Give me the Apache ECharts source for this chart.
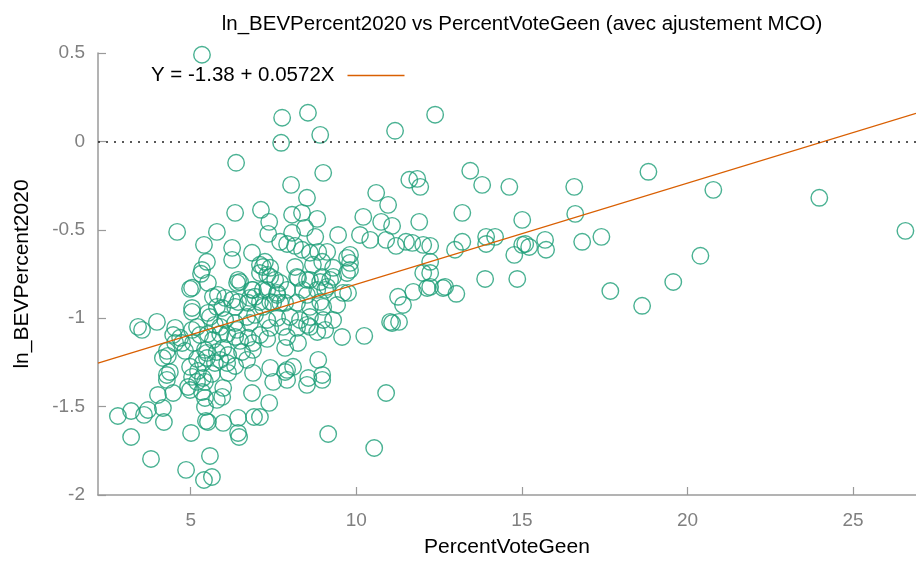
<!DOCTYPE html>
<html>
<head>
<meta charset="utf-8">
<script src="https://cdn.jsdelivr.net/npm/echarts@6/dist/echarts.min.js"></script>
<style>
  html, body { margin: 0; padding: 0; background: #fff; }
  #chart { width: 916px; height: 563px; }
</style>
</head>
<body>
<div id="chart"></div>
<script>
// x: PercentVoteGeen, y: ln_BEVPercent2020
const voteGeen = [
  5.34, 7.76, 8.54, 8.91, 7.73, 11.17, 12.38, 9.00, 8.03, 8.51, 10.60, 10.96, 11.60, 11.84, 11.93, 6.37, 6.34, 7.12,
  8.06, 8.36, 8.82, 7.37, 10.21, 10.75, 11.08, 11.90, 7.34, 8.06, 8.45, 8.76, 9.45, 10.11, 10.42, 10.90, 11.20, 11.50,
  11.69, 12.02, 7.70, 7.91, 8.15, 8.36, 8.60, 8.85, 9.12, 9.81, 9.81, 7.24, 8.15, 8.69, 8.97, 9.30, 9.72, 4.59, 5.79,
  5.40, 6.25, 6.85, 5.49, 6.25, 5.34, 7.09, 7.18, 7.40, 7.31, 7.09, 7.40, 6.43, 6.49, 7.55, 8.24, 8.60, 8.97, 9.30,
  9.72, 9.81, 12.02, 5.52, 4.98, 6.88, 7.18, 7.61, 7.91, 8.39, 8.82, 9.12, 9.60, 5.67, 6.04, 6.43, 6.79, 7.09, 7.70,
  5.04, 11.26, 11.41, 11.72, 12.14,
  13.44, 13.80, 14.62, 16.58, 18.82, 20.78, 23.98, 13.20, 15.01, 16.61, 26.58, 12.23, 13.20, 12.98, 13.92, 14.19,
  13.92, 14.77, 15.01, 15.10, 15.22, 15.70, 15.73, 16.82, 17.40, 20.39, 12.23, 12.23, 12.23, 12.68, 12.62, 13.02,
  13.89, 14.86, 17.67, 18.63, 19.57,
  7.70, 8.21, 8.51, 8.91, 9.21, 7.31, 7.61, 8.51, 9.06, 9.75, 7.18, 7.49, 7.85, 8.21, 8.60, 8.91, 9.42, 7.31, 7.61,
  8.00, 8.30, 8.60, 9.00, 9.30, 7.40, 7.79, 8.21, 8.51, 8.82, 9.06, 11.02, 11.08, 11.29, 7.09, 7.91, 8.24, 9.57,
  10.24, 7.85, 8.85, 7.40, 7.91, 8.09, 8.97, 8.55, 10.90, 9.15, 10.54, 7.37, 7.09, 7.49, 8.51, 8.97, 7.91,
  5.31, 5.04, 6.40, 6.85, 6.94, 5.82, 6.25, 5.04, 5.52, 5.95, 6.34, 6.73, 3.41, 3.53, 3.98, 4.47, 4.53, 4.28, 4.16,
  4.31, 4.74, 5.04, 5.28, 5.07, 4.83, 5.58, 5.73, 6.04, 6.34, 6.70, 6.94, 5.52, 5.89, 6.34, 6.73, 5.43, 5.79, 6.13,
  6.55, 6.88, 5.19, 5.49, 5.73, 6.10, 6.34, 6.70, 5.22, 5.64, 6.13, 4.28, 6.88, 4.28, 4.92, 5.19, 5.43, 5.98, 4.01,
  4.47, 4.98, 5.43, 5.95, 6.85, 3.71, 4.16, 5.43, 2.80, 3.20, 3.59, 4.19, 5.46, 5.52, 5.98, 6.43, 6.43, 6.46, 6.91,
  3.20, 5.01, 3.80, 5.58, 4.86, 5.64, 5.40,
  5.79, 7.40, 9.00, 4.53, 4.68, 5.19, 5.89, 6.10, 6.40, 6.79, 8.60, 5.67, 5.98, 6.49, 6.88, 7.31, 5.49, 5.89, 5.37,
  4.98, 7.85, 5.04, 5.37, 5.34, 5.79, 4.37
];
const lnBev = [
  0.49, 0.134, 0.162, 0.037, -0.008, 0.06, 0.151, -0.178, -0.246, -0.319, -0.291, -0.359, -0.217, -0.212, -0.257, -0.121, -0.404, -0.387,
  -0.415, -0.404, -0.438, -0.455, -0.427, -0.455, -0.478, -0.455, -0.523, -0.517, -0.489, -0.540, -0.529, -0.529, -0.557, -0.557, -0.591, -0.568,
  -0.574, -0.585, -0.568, -0.580, -0.591, -0.613, -0.630, -0.625, -0.625, -0.642, -0.687, -0.681, -0.710, -0.698, -0.681, -0.715, -0.659, -0.512, -0.512,
  -0.585, -0.602, -0.630, -0.681, -0.670, -0.727, -0.698, -0.710, -0.715, -0.755, -0.744, -0.766, -0.783, -0.795, -0.783, -0.772, -0.783, -0.766, -0.766,
  -0.744, -0.727, -0.744, -0.800, -0.834, -0.840, -0.840, -0.868, -0.840, -0.840, -0.840, -0.823, -0.857, -0.879, -0.885, -0.908, -0.885, -0.908, -0.913,
  -0.942, -0.879, -0.925, -0.851, -0.829,
  -0.166, -0.246, -0.257, -0.257, -0.172, -0.274, -0.319, -0.404, -0.444, -0.410, -0.506, -0.591, -0.568, -0.613, -0.540, -0.540,
  -0.580, -0.642, -0.585, -0.580, -0.597, -0.557, -0.613, -0.568, -0.540, -0.647, -0.681, -0.744, -0.823, -0.823, -0.829, -0.862,
  -0.778, -0.778, -0.846, -0.930, -0.795,
  -0.800, -0.766, -0.783, -0.795, -0.783, -0.840, -0.857, -0.868, -0.840, -0.857, -0.936, -0.913, -0.913, -0.913, -0.936, -0.908, -0.925, -1.010, -0.998,
  -0.993, -1.010, -0.993, -1.010, -1.010, -1.055, -1.049, -1.055, -1.038, -1.078, -1.066, -1.021, -1.027, -1.021, -1.095, -1.106, -1.140, -1.106,
  -1.100, -1.168, -1.236, -1.281, -1.292, -1.275, -1.321, -1.338, -1.423, -1.655, -1.734, -1.479, -1.559, -1.360, -1.377, -1.349, -1.349,
  -0.749, -0.828, -0.800, -0.840, -0.879, -0.868, -0.896, -0.964, -0.970, -0.942, -0.936, -0.913, -1.049, -1.066, -1.021, -1.095, -1.140, -1.185, -1.225,
  -1.213, -1.140, -1.066, -1.095, -1.140, -1.185, -0.993, -1.038, -1.010, -1.027, -0.993, -0.981, -1.089, -1.089, -1.106, -1.111, -1.179, -1.191, -1.208,
  -1.191, -1.179, -1.230, -1.225, -1.253, -1.253, -1.270, -1.236, -1.298, -1.315, -1.309, -1.321, -1.309, -1.349, -1.389, -1.360, -1.360, -1.394, -1.434,
  -1.423, -1.406, -1.451, -1.445, -1.423, -1.519, -1.508, -1.502, -1.553, -1.525, -1.547, -1.587, -1.581, -1.587, -1.592, -1.564, -1.649, -1.672, -1.559,
  -1.672, -1.649, -1.796, -1.779, -1.858, -1.898, -1.915,
  -0.936, -0.908, -0.936, -1.055, -1.111, -1.049, -1.049, -1.089, -1.066, -1.027, -1.049, -1.123, -1.168, -1.128, -1.140, -1.117, -1.196, -1.236, -1.253,
  -1.275, -1.304, -1.332, -1.338, -1.417, -1.462, -1.304
];

const xTicks = [5, 10, 15, 20, 25];
const yTicks = [-2, -1.5, -1, -0.5, 0, 0.5];

// OLS fit shown in the legend
const intercept = -1.38;
const slope = 0.0572;
const xMin = 2.2;
const xMax = 26.9;

let points = [];
for (let i = 0; i < voteGeen.length; i++) {
  points.push([voteGeen[i], lnBev[i]]);
}
let fitLine = [[xMin, intercept + slope * xMin], [xMax, intercept + slope * xMax]];

const chart = echarts.init(document.getElementById('chart'));
const font = 'Liberation Sans, Arial, sans-serif';
const axisGray = '#9a9a9a';

let option = {
  backgroundColor: '#fff',
  animation: false,
  title: {
    text: 'ln_BEVPercent2020 vs PercentVoteGeen (avec ajustement MCO)',
    left: 517,
    top: 9,
    textAlign: 'center',
    textStyle: { fontFamily: font, fontSize: 20.5, fontWeight: 'normal', color: '#000' }
  },
  legend: {
    data: [{ name: 'Y = -1.38 + 0.0572X', icon: 'rect' }],
    left: 146,
    top: 60,
    align: 'right',
    itemWidth: 57,
    itemHeight: 1.4,
    itemGap: 0,
    textStyle: { fontFamily: font, fontSize: 20.5, color: '#000', padding: [0, 8, 0, 0] }
  },
  grid: { left: 98, right: 0, top: 53, bottom: 68 },
  xAxis: {
    type: 'value',
    min: xMin,
    max: xMax,
    name: 'PercentVoteGeen',
    nameLocation: 'middle',
    nameGap: 42,
    nameTextStyle: { fontFamily: font, fontSize: 21, color: '#000' },
    splitLine: { show: false },
    axisLine: { onZero: false, lineStyle: { color: axisGray, width: 1.5 } },
    axisTick: { inside: true, length: 8, customValues: xTicks, lineStyle: { color: axisGray, width: 1.2 } },
    axisLabel: { customValues: xTicks, margin: 16, fontFamily: font, fontSize: 19, color: '#808080' }
  },
  yAxis: {
    type: 'value',
    min: -2,
    max: 0.5,
    name: 'ln_BEVPercent2020',
    nameLocation: 'middle',
    nameGap: 65,
    nameRotate: 90,
    nameTextStyle: { fontFamily: font, fontSize: 21, color: '#000' },
    splitLine: { show: false },
    axisLine: { show: true, onZero: false, lineStyle: { color: axisGray, width: 1.5 } },
    axisTick: { show: true, inside: true, length: 8, customValues: yTicks, lineStyle: { color: axisGray, width: 1.2 } },
    axisLabel: { customValues: yTicks, margin: 13, fontFamily: font, fontSize: 19, color: '#808080' }
  },
  series: [
    {
      name: 'ln_BEVPercent2020',
      type: 'scatter',
      data: points,
      symbol: 'circle',
      symbolSize: 16.5,
      itemStyle: { color: 'rgba(0,0,0,0)', borderColor: '#1b9e77', borderWidth: 1.4 },
      markLine: {
        silent: true,
        symbol: 'none',
        label: { show: false },
        lineStyle: { color: '#222', type: [2, 6], width: 1.5 },
        data: [{ yAxis: 0 }]
      },
      z: 3
    },
    {
      name: 'Y = -1.38 + 0.0572X',
      type: 'line',
      data: fitLine,
      symbol: 'none',
      lineStyle: { color: '#d95f02', width: 1.3 },
      itemStyle: { color: '#d95f02' },
      z: 4
    }
  ]
};
chart.setOption(option);
</script>
</body>
</html>
